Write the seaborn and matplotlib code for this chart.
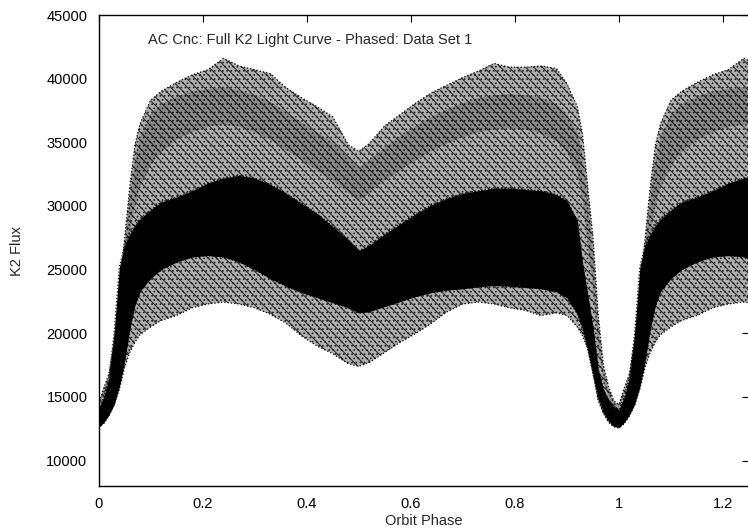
import matplotlib
matplotlib.use('Agg')
import numpy as np
import pandas as pd
import matplotlib.pyplot as plt
import seaborn as sns

# ── Data ──────────────────────────────────────────────────────────────────────

phase = [0.00, 0.01, 0.02, 0.03, 0.04, 0.05, 0.06, 0.07, 0.08, 0.10,
         0.12, 0.15, 0.18, 0.21, 0.24, 0.27, 0.30, 0.33, 0.36, 0.39,
         0.42, 0.45, 0.48, 0.50, 0.52, 0.55, 0.58, 0.61, 0.64, 0.67,
         0.70, 0.73, 0.76, 0.79, 0.82, 0.85, 0.88, 0.90, 0.92, 0.93,
         0.94, 0.95, 0.96, 0.97, 0.98, 0.99, 1.00]

# outer edge of all points
cloud_top = [14400, 15700, 16800, 19300, 23200, 27400, 31500, 34800, 36500, 38300,
             39000, 39700, 40300, 40700, 41600, 41000, 40700, 40400, 39300, 38500,
             37800, 37000, 34800, 34300, 34900, 36300, 37200, 38100, 38900, 39500,
             40100, 40600, 41200, 40900, 40900, 41000, 40800, 39600, 37800, 35600,
             31500, 27600, 21500, 17500, 15800, 14700, 14400]

# denser band of cycles running along the top of the cloud
band_top = [14300, 15500, 16600, 19000, 22800, 26800, 30600, 33600, 35400, 37200,
            38000, 38600, 39000, 39200, 39300, 39100, 38700, 38200, 37400, 36600,
            35800, 35000, 33800, 33000, 33600, 34600, 35500, 36300, 37000, 37600,
            38100, 38500, 38700, 38800, 38700, 38500, 38000, 37200, 35800, 34000,
            30500, 26500, 20500, 17000, 15500, 14600, 14300]

band_bottom = [14200, 15300, 16400, 18800, 22000, 25000, 27800, 30000, 31500, 33200,
               34200, 35200, 35800, 36200, 36400, 36200, 35800, 35200, 34400, 33600,
               32800, 32000, 31000, 30400, 31000, 32000, 32800, 33600, 34300, 34900,
               35400, 35800, 36000, 36100, 36000, 35700, 35100, 34200, 32600, 30400,
               27000, 23500, 18800, 16300, 15000, 14400, 14200]

# dense core band
core_top = [14000, 15000, 16500, 20000, 25200, 26900, 27800, 28500, 29000, 29700,
            30300, 30700, 31200, 31800, 32200, 32400, 32200, 31700, 31000, 30200,
            29400, 28400, 27300, 26500, 26900, 27800, 28600, 29400, 30100, 30600,
            31000, 31200, 31400, 31400, 31300, 31200, 30900, 30400, 28800, 25500,
            23000, 20500, 17200, 15600, 14800, 14200, 14000]

core_bottom = [12600, 13000, 13600, 14400, 15800, 17800, 20300, 22200, 23300, 24300,
               25000, 25600, 26000, 26100, 26000, 25600, 25000, 24300, 23700, 23200,
               22800, 22400, 22000, 21600, 21700, 22100, 22500, 22900, 23200, 23400,
               23500, 23650, 23750, 23700, 23600, 23500, 23250, 22800, 21500, 20300,
               18700, 16800, 14900, 13800, 13100, 12700, 12600]

cloud_bottom = [12550, 12900, 13500, 14400, 15600, 17300, 18500, 19300, 19900, 20500,
                21000, 21400, 22000, 22300, 22450, 22300, 22000, 21500, 20800, 19800,
                19000, 18400, 17600, 17400, 17700, 18500, 19300, 20000, 20800, 21700,
                22300, 22450, 22300, 22000, 21800, 21400, 21600, 21400, 20500, 19800,
                18800, 16900, 14700, 13700, 13000, 12650, 12550]

x_ticks = [0, 0.2, 0.4, 0.6, 0.8, 1.0, 1.2]
x_labels = ['0', '0.2', '0.4', '0.6', '0.8', '1', '1.2']
y_ticks = [10000, 15000, 20000, 25000, 30000, 35000, 40000, 45000]
title = 'AC Cnc: Full K2 Light Curve - Phased: Data Set 1'


# ── Phase-fold: repeat the start of the cycle after phase 1 ─────────────────

df = pd.DataFrame({'phase': phase, 'cloud_top': cloud_top,
                   'band_top': band_top, 'band_bottom': band_bottom,
                   'core_top': core_top, 'core_bottom': core_bottom,
                   'cloud_bottom': cloud_bottom})
wrap = df[(df.phase > 0) & (df.phase < 0.3)].copy()
wrap['phase'] = wrap['phase'] + 1
df = pd.concat([df, wrap], ignore_index=True)


# ── Plot ──────────────────────────────────────────────────────────────────────

sns.set_style('white')
plt.rcParams['font.family'] = ['Liberation Sans', 'DejaVu Sans']
plt.rcParams['hatch.linewidth'] = 0.7

fig = plt.figure(figsize=(7.48, 5.31), dpi=100)
ax = fig.add_axes([0.1317, 0.0847, 0.8698, 0.887])

# sparse cloud of cycles
ax.fill_between(df.phase, df.cloud_bottom, df.cloud_top,
                facecolor='#b0b0b0', edgecolor='#202020', hatch='\\\\\\\\....', linewidth=0)
# slightly denser band near the top
ax.fill_between(df.phase, df.band_bottom, df.band_top,
                facecolor='#8c8c8c', edgecolor='#101010', hatch='\\\\\\\\....', linewidth=0)
# dense core
ax.fill_between(df.phase, df.core_bottom, df.core_top,
                facecolor='black', edgecolor='black', linewidth=0)
for col in ['cloud_top', 'cloud_bottom', 'core_top', 'core_bottom']:
    sns.lineplot(data=df, x='phase', y=col, ax=ax, color='black',
                 linewidth=0.9, linestyle=':', sort=False)

ax.set_xlim(0, 1.25)
ax.set_ylim(8000, 45000)
ax.set_xticks(x_ticks)
ax.set_xticklabels(x_labels)
ax.set_yticks(y_ticks)
ax.tick_params(direction='in', length=5, width=0.8, top=True, right=True,
               labelsize=10.5, pad=8, colors='black')
for s in ax.spines.values():
    s.set_color('black')
    s.set_linewidth(1.0)

ax.set_xlabel('Orbit Phase', fontsize=10.5, labelpad=2)
ax.set_ylabel('K2 Flux', fontsize=10.5, labelpad=16)
ax.text(0.095, 43000, title, fontsize=10.5, va='center', ha='left')

fig.savefig('out.png', dpi=100)
